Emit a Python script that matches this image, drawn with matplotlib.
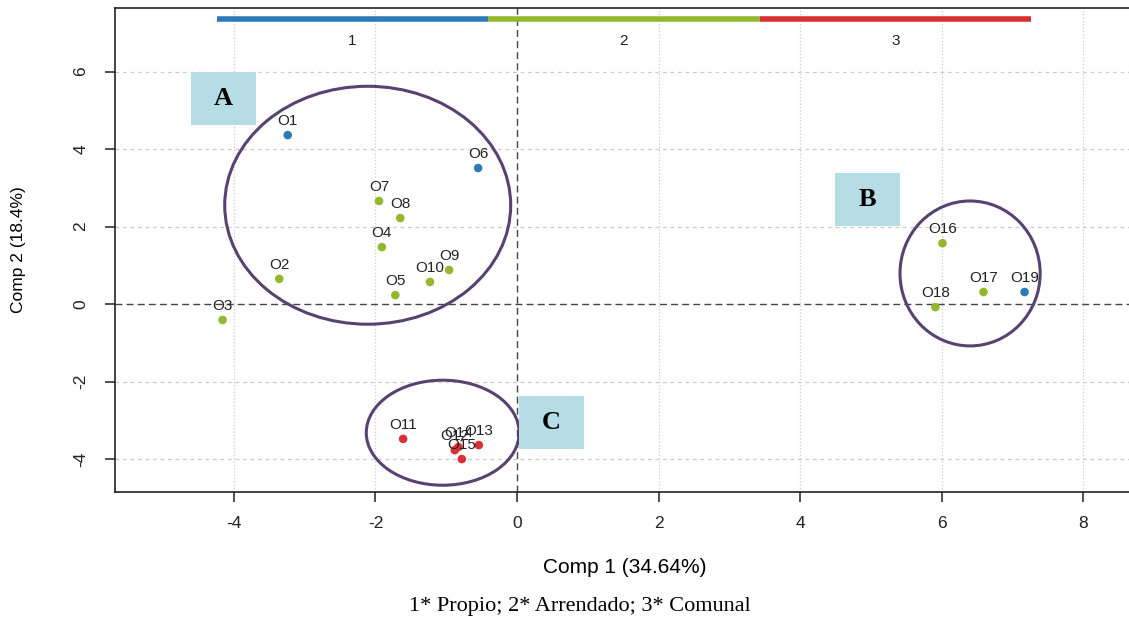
import numpy as np
import matplotlib
matplotlib.use("Agg")
import matplotlib.pyplot as plt
from matplotlib.patches import Ellipse, Rectangle

plt.rcParams['font.family'] = ['Liberation Sans', 'DejaVu Sans']
plt.rcParams['axes.unicode_minus'] = False

# scores of each observation on the first two components
labels = ['O1', 'O2', 'O3', 'O4', 'O5', 'O6', 'O7', 'O8', 'O9', 'O10',
          'O11', 'O12', 'O13', 'O14', 'O15', 'O16', 'O17', 'O18', 'O19']
comp1 = [-3.24, -3.36, -4.16, -1.91, -1.72, -0.55, -1.95, -1.65, -0.96, -1.23,
         -1.61, -0.88, -0.54, -0.83, -0.78, 6.01, 6.59, 5.91, 7.17]
comp2 = [4.36, 0.65, -0.41, 1.47, 0.23, 3.51, 2.66, 2.22, 0.88, 0.57,
         -3.48, -3.77, -3.64, -3.69, -4.00, 1.57, 0.31, -0.08, 0.31]
tenure = [1, 2, 2, 2, 2, 1, 2, 2, 2, 2,
          3, 3, 3, 3, 3, 2, 2, 2, 1]

group_names = ['1', '2', '3']
group_colors = {1: '#2b7bb9', 2: '#93b82e', 3: '#d93034'}

# cluster ellipses: centre, width, height
clusters = ['A', 'B', 'C']
ell_center = [(-2.11, 2.55), (6.40, 0.79), (-1.05, -3.32)]
ell_size = [(4.04, 6.14), (1.98, 3.74), (2.16, 2.71)]
# label boxes (x0, y0, w, h)
box_pos = [(-4.61, 4.62, 0.92, 1.37), (4.49, 2.01, 0.92, 1.37), (0.03, -3.74, 0.92, 1.37)]

# colour key bar across top
key_edges = [-4.24, -0.41, 3.43, 7.26]

fig = plt.figure(figsize=(11.29, 6.23), dpi=100)
ax = fig.add_axes([115 / 1129, 1 - 492 / 623, 1020 / 1129, 484 / 623])
ax.set_xlim(-5.68, 8.73)
ax.set_ylim(-4.85, 7.64)

ax.set_xticks([-4, -2, 0, 2, 4, 6, 8])
ax.set_yticks([-4, -2, 0, 2, 4, 6])
for t in [-4, -2, 2, 4, 6, 8]:
    ax.axvline(t, color='#cccccc', lw=0.9, ls=':', zorder=0)
for t in [-4, -2, 2, 4, 6]:
    ax.axhline(t, color='#cccccc', lw=0.9, ls=(0, (3, 3)), zorder=0)
ax.axvline(0, color='#444444', lw=1, ls=(0, (5, 3)), zorder=1)
ax.axhline(0, color='#444444', lw=1, ls=(0, (5, 3)), zorder=1)

cols = [group_colors[g] for g in tenure]
ax.scatter(comp1, comp2, c=cols, s=38, zorder=3, edgecolors='none')
for lab, x, y in zip(labels, comp1, comp2):
    ax.annotate(lab, (x, y), xytext=(0, 10), textcoords='offset points',
                ha='center', va='center', fontsize=11, color='#222222', zorder=4)

for c, (w, h) in zip(ell_center, ell_size):
    ax.add_patch(Ellipse(c, w, h, fill=False, ec='#574272', lw=2.2, zorder=2))

for name, (x0, y0, w, h) in zip(clusters, box_pos):
    ax.add_patch(Rectangle((x0, y0), w, h, fc='#b6dde6', ec='none', zorder=2))
    ax.text(x0 + w / 2, y0 + h / 2, name, ha='center', va='center', fontsize=19,
            fontweight='bold', family='Liberation Serif', zorder=3)

for i, g in enumerate(group_names):
    ax.plot(key_edges[i:i + 2], [7.35, 7.35], color=group_colors[i + 1], lw=4,
            solid_capstyle='butt', zorder=3)
    ax.text((key_edges[i] + key_edges[i + 1]) / 2, 6.79, g, ha='center',
            va='center', fontsize=11, color='#222222')

for s in ['left', 'bottom', 'top']:
    ax.spines[s].set_linewidth(1.2)
    ax.spines[s].set_color('#222222')
ax.spines['right'].set_visible(False)

ax.tick_params(axis='both', length=7, width=1.1, labelsize=12.5, colors='#222222')
ax.tick_params(axis='x', pad=10)
ax.tick_params(axis='y', pad=12)
for lbl in ax.get_yticklabels():
    lbl.set_rotation(90)
    lbl.set_va('center')

ax.set_xlabel('Comp 1 (34.64%)', fontsize=15, labelpad=20)
ax.set_ylabel('Comp 2 (18.4%)', fontsize=12.5, labelpad=34)

fig.text(580 / 1129, 1 - 606 / 623, '1* Propio; 2* Arrendado; 3* Comunal',
         ha='center', va='center', fontsize=16, family='Liberation Serif')

fig.savefig('out.png', dpi=100)
